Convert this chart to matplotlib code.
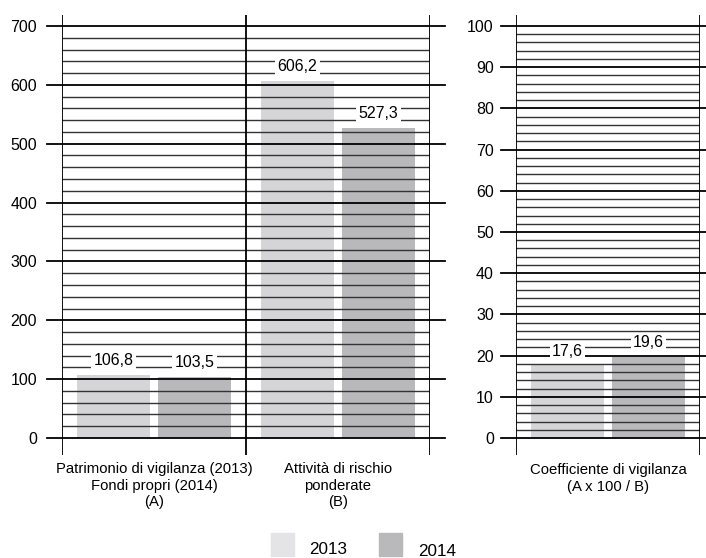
import matplotlib.pyplot as plt
from matplotlib.patches import Rectangle

plt.rcParams["font.family"] = ["Liberation Sans", "DejaVu Sans"]

years = ["2013", "2014"]
groups_left = ["Patrimonio di vigilanza (2013)\nFondi propri (2014)\n(A)",
               "Attività di rischio\nponderate\n(B)"]
values_left = {"2013": [106.8, 606.2], "2014": [103.5, 527.3]}
group_right = "Coefficiente di vigilanza\n(A x 100 / B)"
values_right = {"2013": 17.6, "2014": 19.6}
labels_left = {"2013": ["106,8", "606,2"], "2014": ["103,5", "527,3"]}
labels_right = {"2013": "17,6", "2014": "19,6"}

bar_colors = {"2013": "#d5d5d7", "2014": "#b9b9bc"}
legend_colors = {"2013": "#e4e4e6", "2014": "#b9b9bc"}

W, H = 706, 558
fig = plt.figure(figsize=(W / 100, H / 100), dpi=100)


def px_axes(x0, x1, y_top, y_bot):
    return fig.add_axes([x0 / W, 1 - y_bot / H, (x1 - x0) / W, (y_bot - y_top) / H])


def grid_panel(ax, top, major, minor, ext_left, ext_right):
    # horizontal rules drawn on top of the bars, majors stick out both sides
    width_px = ax.get_position().width * W
    lo = -ext_left / width_px
    hi = 1 + ext_right / width_px
    v = 0.0
    while v <= top + 1e-9:
        if abs(v / major - round(v / major)) < 1e-6:
            ax.axhline(v, lo, hi, color="black", lw=1.3, clip_on=False, zorder=2)
        else:
            ax.axhline(v, 0, 1, color="#333333", lw=1.0, zorder=2)
        v += minor
    for s in ax.spines.values():
        s.set_visible(False)
    ax.tick_params(axis="x", length=0)
    ax.tick_params(axis="y", length=0, labelsize=11.5)


def bar_label(ax, x, y, txt):
    ax.annotate(txt, (x, y), xytext=(0, 5), textcoords="offset points",
                ha="center", va="bottom", fontsize=11.5, zorder=4,
                bbox=dict(boxstyle="square,pad=0.15", fc="white", ec="none"))


# left panel: A and B
ax1 = px_axes(62, 430, 15, 455)
per = 412 / 700
ax1.set_ylim(-17 / per, 700 + 11 / per)
ax1.set_xlim(0, 2)
grid_panel(ax1, 700, 100, 20, 15, 15)
for xv in [0, 1, 2]:
    ax1.axvline(xv, color="black", lw=1.3, zorder=3)
ax1.set_yticks(range(0, 701, 100))
ax1.tick_params(axis="y", pad=18)
centers = [0.5, 1.5]
for k, yr in enumerate(years):
    off = -0.22 if k == 0 else 0.22
    xs = [c + off for c in centers]
    ax1.bar(xs, values_left[yr], width=0.4, color=bar_colors[yr], zorder=1)
    for x, v, t in zip(xs, values_left[yr], labels_left[yr]):
        bar_label(ax1, x, v, t)
ax1.set_xticks(centers)
ax1.set_xticklabels(groups_left, fontsize=10.7, linespacing=1.25)
ax1.tick_params(axis="x", pad=5)

# right panel: coefficient
ax2 = px_axes(516, 700, 15, 455)
per2 = 412 / 100
ax2.set_ylim(-17 / per2, 100 + 11 / per2)
ax2.set_xlim(0, 1)
grid_panel(ax2, 100, 10, 2, 15, 10)
for xv in [0, 1]:
    ax2.axvline(xv, color="black", lw=1.3, zorder=3)
ax2.set_yticks(range(0, 101, 10))
ax2.tick_params(axis="y", pad=16)
for k, yr in enumerate(years):
    x = 0.5 + (-0.22 if k == 0 else 0.22)
    ax2.bar([x], [values_right[yr]], width=0.4, color=bar_colors[yr], zorder=1)
    bar_label(ax2, x, values_right[yr], labels_right[yr])
ax2.set_xticks([0.5])
ax2.set_xticklabels([group_right], fontsize=10.7, linespacing=1.25)
ax2.tick_params(axis="x", pad=6)

# legend
leg = [(271, 309, 549), (379, 418, 552)]
for yr, (px, tx, ty) in zip(years, leg):
    fig.add_artist(Rectangle((px / W, 1 - 556 / H), 23 / W, 23 / H,
                             transform=fig.transFigure, color=legend_colors[yr]))
    fig.text(tx / W, 1 - ty / H, yr, fontsize=12.3, va="center", ha="left")

fig.savefig("out.png", dpi=100)
